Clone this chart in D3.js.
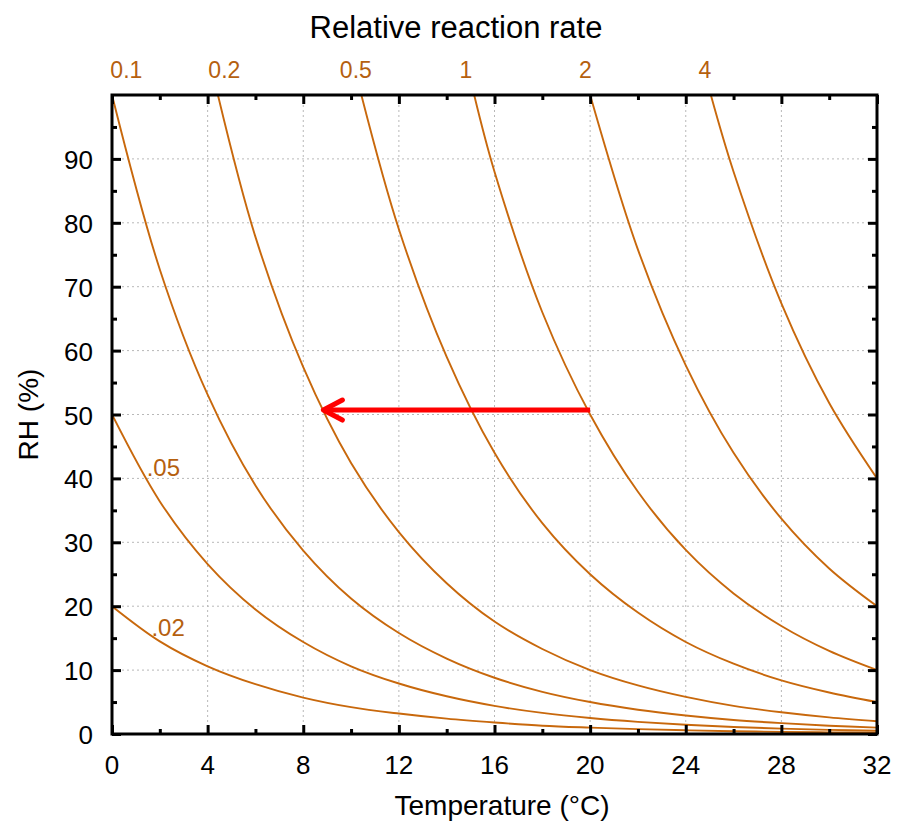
<!DOCTYPE html>
<html lang="en">
<head>
    <meta charset="UTF-8">
    <title>Relative reaction rate isoperms</title>
    <script src="https://d3js.org/d3.v7.min.js"></script>
    <style>
        body { margin: 0; background: #fff; }
        text { font-family: "Liberation Sans", Arial, Helvetica, sans-serif; }
        .grid line { stroke: #b8b8b8; stroke-width: 1; stroke-dasharray: 2,3; }
        .curve { fill: none; stroke: #c8680c; stroke-width: 1.9px; }
    </style>
</head>
<body>
    <svg width="899" height="823"></svg>

    <script>
        // isoperm curves, [temperature °C, RH %]
        const curve002 = [[0,20],[2,14.5],[4,10.6],[6,7.8],[8,5.7],[10,4.2],[12,3.2],[14,2.4],[16,1.8],[18,1.3],[20,1.0],[22,0.76],[24,0.58],[26,0.44],[28,0.34],[30,0.26],[32,0.2]];
        const curve005 = [[0,50],[2,36.4],[4,26.6],[6,19.5],[8,14.4],[10,10.6],[12,7.9],[14,5.9],[16,4.4],[18,3.3],[20,2.5],[22,1.9],[24,1.44],[26,1.1],[28,0.84],[30,0.65],[32,0.5]];
        const curve01 = [[0,100],[2,72.7],[4,53.1],[6,38.9],[8,28.7],[10,21.2],[12,15.8],[14,11.8],[16,8.8],[18,6.6],[20,5.0],[22,3.8],[24,2.9],[26,2.2],[28,1.7],[30,1.3],[32,1.0]];
        const curve02 = [[4.43,100],[6,77.8],[8,57.4],[10,42.4],[12,31.6],[14,23.6],[16,17.6],[18,13.3],[20,10],[22,7.6],[24,5.8],[26,4.4],[28,3.4],[30,2.6],[32,2.0]];
        const curve05 = [[10.43,100],[12,79],[14,59],[16,44],[18,33],[20,25],[22,19],[24,14.4],[26,11],[28,8.4],[30,6.5],[32,5]];
        const curve1 = [[15.15,100],[16,88],[18,66],[20,50],[22,37.9],[24,28.8],[26,22],[28,16.9],[30,13],[32,10]];
        const curve2 = [[20,100],[22,75.8],[24,57.7],[26,44],[28,33.7],[30,25.9],[32,20]];
        const curve4 = [[25.05,100],[26,88],[28,67.4],[30,51.8],[32,40]];
        const curves = [curve002, curve005, curve01, curve02, curve05, curve1, curve2, curve4];

        // rate labels along the top edge and where they sit on the temperature axis
        const topLabels = ["0.1", "0.2", "0.5", "1", "2", "4"];
        const topLabelT = [0.6, 4.7, 10.2, 14.8, 19.8, 24.8];

        // labels written inside the plot
        const innerLabels = [".05", ".02"];
        const innerLabelPos = [[1.45, 40.4], [1.65, 15.3]];

        // the red arrow, from -> to
        const arrowFrom = [20, 50.7];
        const arrowTo = [8.8, 50.7];

        const xTicks = [0, 4, 8, 12, 16, 20, 24, 28, 32];
        const yTicks = [0, 10, 20, 30, 40, 50, 60, 70, 80, 90];

        const svg = d3.select("svg");
        const pLeft = 112, pRight = 877, pTop = 95, pBottom = 734;

        const x = d3.scaleLinear().domain([0, 32]).range([pLeft, pRight]);
        const y = d3.scaleLinear().domain([0, 100]).range([pBottom, pTop]);

        // grid
        svg.append("g").attr("class", "grid")
            .selectAll("line").data(xTicks.slice(1, -1)).join("line")
            .attr("x1", d => x(d)).attr("x2", d => x(d))
            .attr("y1", pTop).attr("y2", pBottom);
        svg.append("g").attr("class", "grid")
            .selectAll("line").data(yTicks.slice(1)).join("line")
            .attr("x1", pLeft).attr("x2", pRight)
            .attr("y1", d => y(d)).attr("y2", d => y(d));

        // curves
        svg.append("defs").append("clipPath").attr("id", "clip")
            .append("rect").attr("x", pLeft).attr("y", pTop)
            .attr("width", pRight - pLeft).attr("height", pBottom - pTop);

        const line = d3.line()
            .x(d => x(d[0])).y(d => y(d[1]))
            .curve(d3.curveCatmullRom.alpha(0.5));

        svg.append("g").attr("clip-path", "url(#clip)")
            .selectAll("path").data(curves).join("path")
            .attr("class", "curve")
            .attr("d", line);

        // axes with inward ticks on all four sides
        const minorX = d3.range(2, 32, 4);
        const minorY = d3.range(5, 100, 10);

        function tickAxis(axis, pos, major, minor) {
            const g = svg.append("g").attr("transform", pos);
            g.call(axis.tickValues(major).tickSize(-9).tickFormat(""));
            const g2 = svg.append("g").attr("transform", pos);
            g2.call(axis.tickValues(minor).tickSize(-5).tickFormat(""));
            [g, g2].forEach(s => {
                s.select(".domain").remove();
                s.selectAll(".tick line").attr("stroke", "#000").attr("stroke-width", 3);
            });
        }
        tickAxis(d3.axisBottom(x), `translate(0,${pBottom})`, xTicks, minorX);
        tickAxis(d3.axisTop(x), `translate(0,${pTop})`, xTicks, minorX);
        tickAxis(d3.axisLeft(y), `translate(${pLeft},0)`, yTicks, minorY);
        tickAxis(d3.axisRight(y), `translate(${pRight},0)`, yTicks, minorY);

        // frame
        svg.append("rect")
            .attr("x", pLeft).attr("y", pTop)
            .attr("width", pRight - pLeft).attr("height", pBottom - pTop)
            .attr("fill", "none").attr("stroke", "#000").attr("stroke-width", 3);

        // tick labels
        svg.append("g").selectAll("text").data(xTicks).join("text")
            .attr("x", d => x(d)).attr("y", pBottom + 40)
            .attr("text-anchor", "middle")
            .style("font-size", "26px")
            .text(d => d);
        svg.append("g").selectAll("text").data(yTicks).join("text")
            .attr("x", pLeft - 19).attr("y", d => y(d) + 10)
            .attr("text-anchor", "end")
            .style("font-size", "26px")
            .text(d => d);

        // top rate labels
        svg.append("g").selectAll("text").data(topLabels).join("text")
            .attr("x", (d, i) => x(topLabelT[i])).attr("y", 78)
            .attr("text-anchor", "middle")
            .style("font-size", "23px")
            .attr("fill", "#b5600f")
            .text(d => d);

        svg.append("g").selectAll("text").data(innerLabels).join("text")
            .attr("x", (d, i) => x(innerLabelPos[i][0]))
            .attr("y", (d, i) => y(innerLabelPos[i][1]))
            .style("font-size", "24px")
            .attr("fill", "#b5600f")
            .text(d => d);

        // axis titles
        svg.append("text")
            .attr("x", 456).attr("y", 38)
            .attr("text-anchor", "middle")
            .style("font-size", "31px")
            .text("Relative reaction rate");
        svg.append("text")
            .attr("x", 502).attr("y", 815)
            .attr("text-anchor", "middle")
            .style("font-size", "28px")
            .text("Temperature (°C)");
        svg.append("text")
            .attr("transform", `translate(38,${(pTop + pBottom) / 2}) rotate(-90)`)
            .attr("text-anchor", "middle")
            .style("font-size", "28px")
            .text("RH (%)");

        // arrow
        const ax0 = x(arrowFrom[0]), ay0 = y(arrowFrom[1]);
        const ax1 = x(arrowTo[0]), ay1 = y(arrowTo[1]);
        svg.append("line")
            .attr("x1", ax0).attr("y1", ay0).attr("x2", ax1 + 2).attr("y2", ay1)
            .attr("stroke", "#ff0000").attr("stroke-width", 5);
        svg.append("path")
            .attr("d", `M${ax1 + 20},${ay1 - 10}L${ax1 + 1},${ay1}L${ax1 + 20},${ay1 + 10}`)
            .attr("fill", "none").attr("stroke", "#ff0000")
            .attr("stroke-width", 5).attr("stroke-linecap", "round").attr("stroke-linejoin", "round");
    </script>
</body>
</html>
